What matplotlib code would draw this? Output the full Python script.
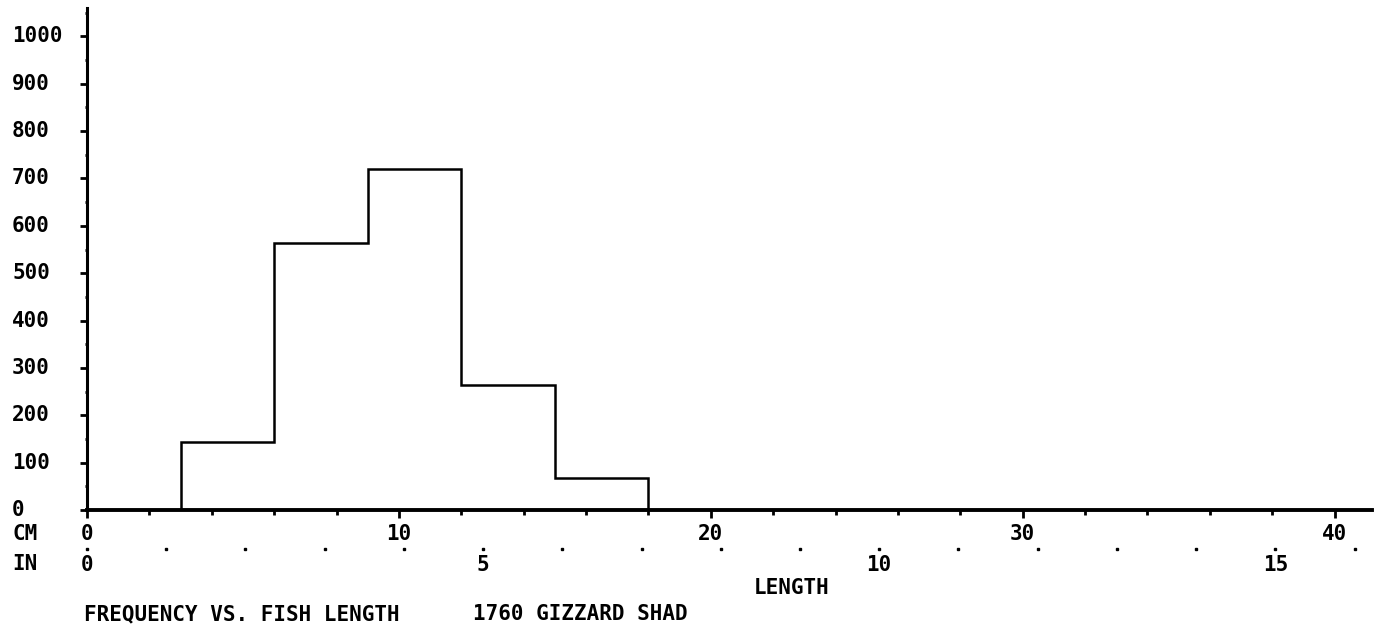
import numpy as np
import matplotlib
matplotlib.use("Agg")
import matplotlib.pyplot as plt
from matplotlib.transforms import blended_transform_factory

# ---- data ----
bin_edges_cm = [0, 3, 6, 9, 12, 15, 18, 21, 24, 27, 30, 33, 36, 39, 42]
counts = [0, 144, 564, 721, 264, 67, 0, 0, 0, 0, 0, 0, 0, 0]
y_ticks = [0, 100, 200, 300, 400, 500, 600, 700, 800, 900, 1000]
cm_labels = [0, 10, 20, 30, 40]
in_labels = [0, 5, 10, 15]
title_left = "FREQUENCY VS. FISH LENGTH"
title_right = "1760 GIZZARD SHAD"
xlabel = "LENGTH"

W, H = 1378, 636
fig = plt.figure(figsize=(W / 100, H / 100), dpi=100)
fig.patch.set_facecolor("white")

def fx(px):
    return px / W

def fy(py):
    return 1 - py / H

left, right, bottom, top = 87, 1372, 510, 8
ax = fig.add_axes([fx(left), fy(bottom), fx(right) - fx(left), fy(top) - fy(bottom)])
ax.set_xlim(0, 41.2)
ax.set_ylim(0, 1060)

for s in ["top", "right"]:
    ax.spines[s].set_visible(False)
ax.spines["left"].set_linewidth(2.2)
ax.spines["bottom"].set_linewidth(2.8)

font = dict(family="DejaVu Sans Mono", weight="bold", fontsize=15, color="black")

# histogram
edges = bin_edges_cm[:]
edges[-1] = 41.2
ax.stairs(counts, edges, fill=False, color="black", linewidth=1.8, baseline=None)

# y ticks
ax.set_yticks(y_ticks)
ax.set_yticks([v + 50 for v in y_ticks], minor=True)
ax.tick_params(axis="y", which="major", direction="out", length=5, width=2, labelleft=False)
ax.tick_params(axis="y", which="minor", direction="out", length=1.5, width=2)
ybt = blended_transform_factory(fig.transFigure, ax.transData)
for v in y_ticks:
    ax.text(fx(12), v, str(v), transform=ybt, ha="left", va="center", **font)

# x ticks
ax.set_xticks(cm_labels)
ax.set_xticks(np.arange(0, 41, 2), minor=True)
ax.tick_params(axis="x", which="major", direction="out", length=6, width=2, labelbottom=False)
ax.tick_params(axis="x", which="minor", direction="out", length=3.5, width=2)
xbt = blended_transform_factory(ax.transData, fig.transFigure)
for v in cm_labels:
    ax.text(v, fy(534), str(v), transform=xbt, ha="center", va="center", **font)

# inch scale
inch_pos = np.arange(0, 17) * 2.54
ax.plot(inch_pos, [fy(549)] * len(inch_pos), transform=xbt, linestyle="none",
        marker="s", markersize=1.6, color="black", clip_on=False)
for v in in_labels:
    ax.text(v * 2.54, fy(565), str(v), transform=xbt, ha="center", va="center", **font)

fig.text(fx(12), fy(534), "CM", ha="left", va="center", **font)
fig.text(fx(12), fy(564), "IN", ha="left", va="center", **font)
fig.text(fx(792), fy(588), xlabel, ha="center", va="center", **font)
fig.text(fx(84), fy(614), title_left, ha="left", va="center", **font)
fig.text(fx(473), fy(614), title_right, ha="left", va="center", **font)

fig.savefig("out.png", dpi=100, facecolor="white")
